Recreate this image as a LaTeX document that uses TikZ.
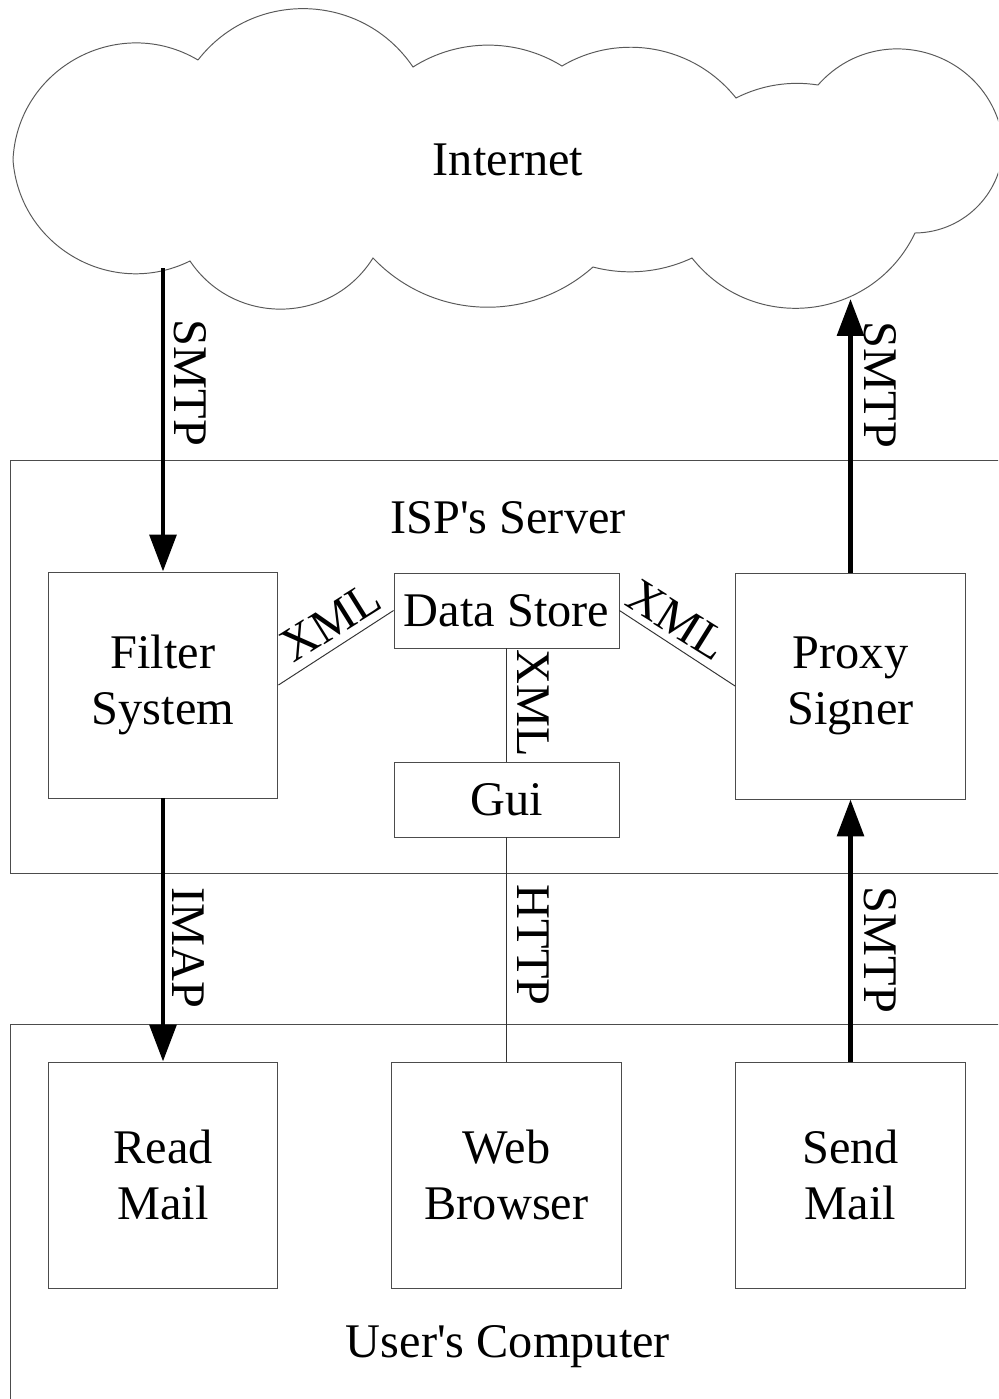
\documentclass[tikz,border=0pt]{standalone}
\usepackage{fontspec}
\setmainfont{Liberation Serif}[Ligatures=TeXOff]
\usetikzlibrary{arrows.meta,calc}
\newcommand\diagfont{\fontsize{27.5}{32}\selectfont}
\begin{document}
\begin{tikzpicture}[x=0.02cm,y=-0.02cm,
  frame/.style={draw=black!70,line width=0.55pt},
  cloudline/.style={draw=black!65,line width=0.55pt,line join=miter},
  box/.style={frame,align=center,inner sep=0pt,font=\diagfont},
  bigbox/.style={box,minimum width=4.6cm,minimum height=4.52cm},
  smallbox/.style={box,minimum width=4.5cm,minimum height=1.5cm},
  flow/.style={line width=2.8pt,-{Triangle[length=21pt,width=15pt]}},
  link/.style={draw=black!80,line width=0.55pt},
  tag/.style={font=\diagfont,inner sep=0pt}]

\useasboundingbox (0,0) rectangle (998,1399);
\fill[white] (0,0) rectangle (998,1399);
\clip (0,0) rectangle (998,1399);

% cloud outline: cusps joined by circular-looking arcs (clockwise)
\coordinate (A) at (198,60);
\coordinate (B) at (413,67);
\coordinate (E) at (562,66);
\coordinate (F) at (736,98);
\coordinate (G) at (818,85);
\coordinate (R) at (1003,140);
\coordinate (H) at (915,233);
\coordinate (I) at (692,258);
\coordinate (J) at (593,267);
\coordinate (D) at (373,258);
\coordinate (C) at (190,261);
\coordinate (L) at (13,160);
\draw[cloudline]
  (A) .. controls ($(A)!0.42!54:(B)$) and ($(B)!0.42!-54:(A)$) .. (B)
      .. controls ($(B)!0.361!32:(E)$) and ($(E)!0.361!-32:(B)$) .. (E)
      .. controls ($(E)!0.38!41:(F)$) and ($(F)!0.38!-41:(E)$) .. (F)
      .. controls ($(F)!0.342!18:(G)$) and ($(G)!0.342!-18:(F)$) .. (G)
      .. controls ($(G)!0.47!65:(R)$) and ($(R)!0.47!-65:(G)$) .. (R)
      .. controls ($(R)!0.394!46:(H)$) and ($(H)!0.394!-46:(R)$) .. (H)
      .. controls ($(H)!0.437!58:(I)$) and ($(I)!0.437!-58:(H)$) .. (I)
      .. controls ($(I)!0.343!20:(J)$) and ($(J)!0.343!-20:(I)$) .. (J)
      .. controls ($(J)!0.389!44:(D)$) and ($(D)!0.389!-44:(J)$) .. (D)
      .. controls ($(D)!0.431!57:(C)$) and ($(C)!0.431!-57:(D)$) .. (C)
      .. controls ($(C)!0.427!56:(L)$) and ($(L)!0.427!-56:(C)$) .. (L)
      .. controls ($(L)!0.438!59:(A)$) and ($(A)!0.438!-59:(L)$) .. (A);
\node[tag] (net) at (508,160) {Internet};
\coordinate (netIn) at (163,268);
\coordinate (netOut) at (850.5,299);

% ISP's server
\draw[frame] (10,460) rectangle (1010,873);
\node[tag] (isp) at (508,518) {ISP's Server};
\node[bigbox] (filter) at (163,685) {Filter\\System};
\node[smallbox] (store) at (506.5,610.5) {Data Store};
\node[smallbox] (gui) at (506.5,799.5) {Gui};
\node[bigbox] (proxy) at (850.5,686) {Proxy\\Signer};

% user's computer
\draw[frame] (10,1024) rectangle (1010,1410);
\node[tag] (user) at (508,1347) {User's Computer};
\node[bigbox] (read) at (163,1175) {Read\\Mail};
\node[bigbox] (web) at (506.5,1175) {Web\\Browser};
\node[bigbox] (send) at (850.5,1175) {Send\\Mail};

% thin links
\draw[link] (filter.east) -- (store.west);
\draw[link] (store.east) -- (proxy.west);
\draw[link] (store.south) -- (gui.north);
\draw[link] (gui.south) -- (web.north);

% mail flows
\draw[flow] (netIn) -- (filter.north);
\draw[flow] (filter.south) -- (read.north);
\draw[flow] (send.north) -- (proxy.south);
\draw[flow] (proxy.north) -- (netOut);

% protocol labels
\node[tag,rotate=-90] (smtpIn) at (190,383) {SMTP};
\node[tag,rotate=-90] (smtpOut) at (880,385) {SMTP};
\node[tag,rotate=-90] (imap) at (188,948) {IMAP};
\node[tag,rotate=-90] (http) at (533,945) {HTTP};
\node[tag,rotate=-90] (smtpSend) at (880,950) {SMTP};
\node[tag,rotate=-90] (xmlGui) at (533,703) {XML};
\node[tag,rotate=32] (xmlFilter) at (331,622) {XML};
\node[tag,rotate=-32] (xmlProxy) at (677,620) {XML};
\end{tikzpicture}
\end{document}
